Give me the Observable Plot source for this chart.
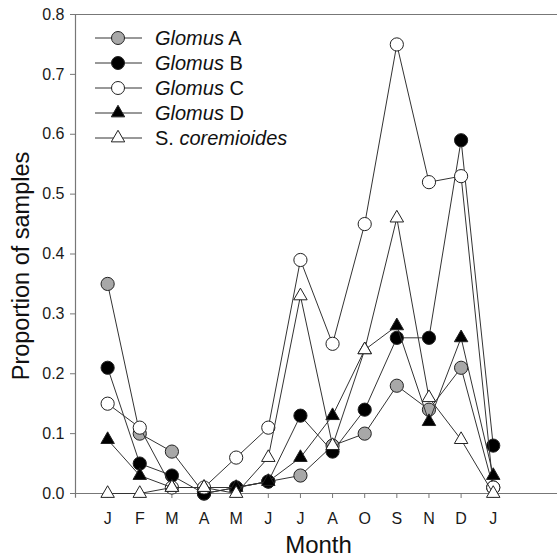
<!DOCTYPE html>
<html>
<head>
<meta charset="utf-8">
<script src="https://cdn.jsdelivr.net/npm/d3@7"></script>
<script src="https://cdn.jsdelivr.net/npm/@observablehq/plot@0.6"></script>
<style>
  html, body { margin: 0; padding: 0; background: #fff; }
  #chart svg { display: block; }
</style>
</head>
<body>
<div id="chart"></div>
<script>
const months = ["J","F","M","A","M","J","J","A","O","S","N","D","J"];
const glomusA = [0.35, 0.10, 0.07, 0.00, 0.01, 0.02, 0.03, 0.08, 0.10, 0.18, 0.14, 0.21, 0.01];
const glomusB = [0.21, 0.05, 0.03, 0.00, 0.01, 0.02, 0.13, 0.07, 0.14, 0.26, 0.26, 0.59, 0.08];
const glomusC = [0.15, 0.11, 0.01, 0.01, 0.06, 0.11, 0.39, 0.25, 0.45, 0.75, 0.52, 0.53, 0.01];
const glomusD = [0.09, 0.03, 0.01, 0.01, 0.01, 0.02, 0.06, 0.13, 0.24, 0.28, 0.12, 0.26, 0.03];
const sCorem  = [0.00, 0.00, 0.01, 0.01, 0.00, 0.06, 0.33, 0.08, 0.24, 0.46, 0.16, 0.09, 0.00];
const seriesNames = ["Glomus A", "Glomus B", "Glomus C", "Glomus D", "S. coremioides"];
const yTicks = [0, 0.1, 0.2, 0.3, 0.4, 0.5, 0.6, 0.7, 0.8];

const seriesDefs = [
  {name: seriesNames[0], values: glomusA, symbol: "circle", fill: "#a8a8a8"},
  {name: seriesNames[1], values: glomusB, symbol: "circle", fill: "#000"},
  {name: seriesNames[2], values: glomusC, symbol: "circle", fill: "#fff"},
  {name: seriesNames[3], values: glomusD, symbol: "triangle", fill: "#000"},
  {name: seriesNames[4], values: sCorem,  symbol: "triangle", fill: "#fff"}
];

const ink = "#333";
const textInk = "#1a1a1a";
const marks = [];
for (const s of seriesDefs) {
  const data = s.values.map((v, i) => ({i, v}));
  marks.push(Plot.line(data, {x: "i", y: "v", stroke: ink, strokeWidth: 1}));
  marks.push(Plot.dot(data, {x: "i", y: "v", symbol: () => s.symbol, fill: s.fill, stroke: "#222", strokeWidth: 1, r: s.symbol === "circle" ? 6.6 : 5.0}));
}

const plot = Plot.plot({
  width: 557,
  height: 560,
  marginLeft: 75,
  marginRight: 0,
  marginTop: 14,
  marginBottom: 67,
  style: {fontFamily: "Liberation Sans, Arial, sans-serif", background: "#fff"},
  x: {type: "linear", domain: [-1, 14]},
  y: {domain: [0, 0.8]},
  symbol: {type: "identity"},
  marks: [
    Plot.ruleY([0], {stroke: "#777", strokeWidth: 1.2}),
    Plot.ruleY([0.8], {stroke: "#777", strokeWidth: 1.2}),
    Plot.ruleX([-1], {y1: -0.008, y2: 0.8, stroke: "#777", strokeWidth: 1.2}),
    Plot.axisY({ticks: yTicks, tickFormat: d3.format(".1f"), tickSize: 5, tickPadding: 6, fontSize: 16, color: textInk, stroke: "#777", label: null}),
    Plot.axisX({ticks: d3.range(months.length), tickFormat: i => months[i], tickSize: 5, tickPadding: 14, fontSize: 16, color: textInk, stroke: "#777", label: null}),
    Plot.text(["Proportion of samples"], {frameAnchor: "left", textAnchor: "middle", dx: -54, dy: 12, rotate: -90, fontSize: 23.5, fill: "#111"}),
    Plot.text(["Month"], {frameAnchor: "bottom", dx: 2, dy: 59, fontSize: 24, fill: "#111"}),
    ...marks
  ]
});
document.getElementById("chart").appendChild(plot);

// legend inside the plot area (top-left)
const svg = d3.select(plot);
const lg = svg.append("g")
  .attr("font-family", "Liberation Sans, Arial, sans-serif")
  .attr("font-size", 20)
  .attr("text-anchor", "start");
seriesDefs.forEach((s, k) => {
  const y = 38 + k * 25;
  const g = lg.append("g").attr("transform", `translate(0,${y})`);
  g.append("line").attr("x1", 95).attr("x2", 142).attr("y1", 0).attr("y2", 0).attr("stroke", ink);
  if (s.symbol === "circle") {
    g.append("circle").attr("cx", 118).attr("cy", 0).attr("r", 6.5).attr("fill", s.fill).attr("stroke", "#222");
  } else {
    g.append("path").attr("transform", "translate(118,0)").attr("d", d3.symbol(d3.symbolTriangle, 78)()).attr("fill", s.fill).attr("stroke", "#222");
  }
  const t = g.append("text").attr("x", 155).attr("y", 0).attr("dy", "0.35em").attr("fill", "#111").attr("text-anchor", "start");
  if (s.name.startsWith("Glomus")) {
    t.append("tspan").attr("font-style", "italic").text("Glomus");
    t.append("tspan").text(" " + s.name.split(" ")[1]);
  } else {
    t.append("tspan").text("S. ");
    t.append("tspan").attr("font-style", "italic").text("coremioides");
  }
});
</script>
</body>
</html>
